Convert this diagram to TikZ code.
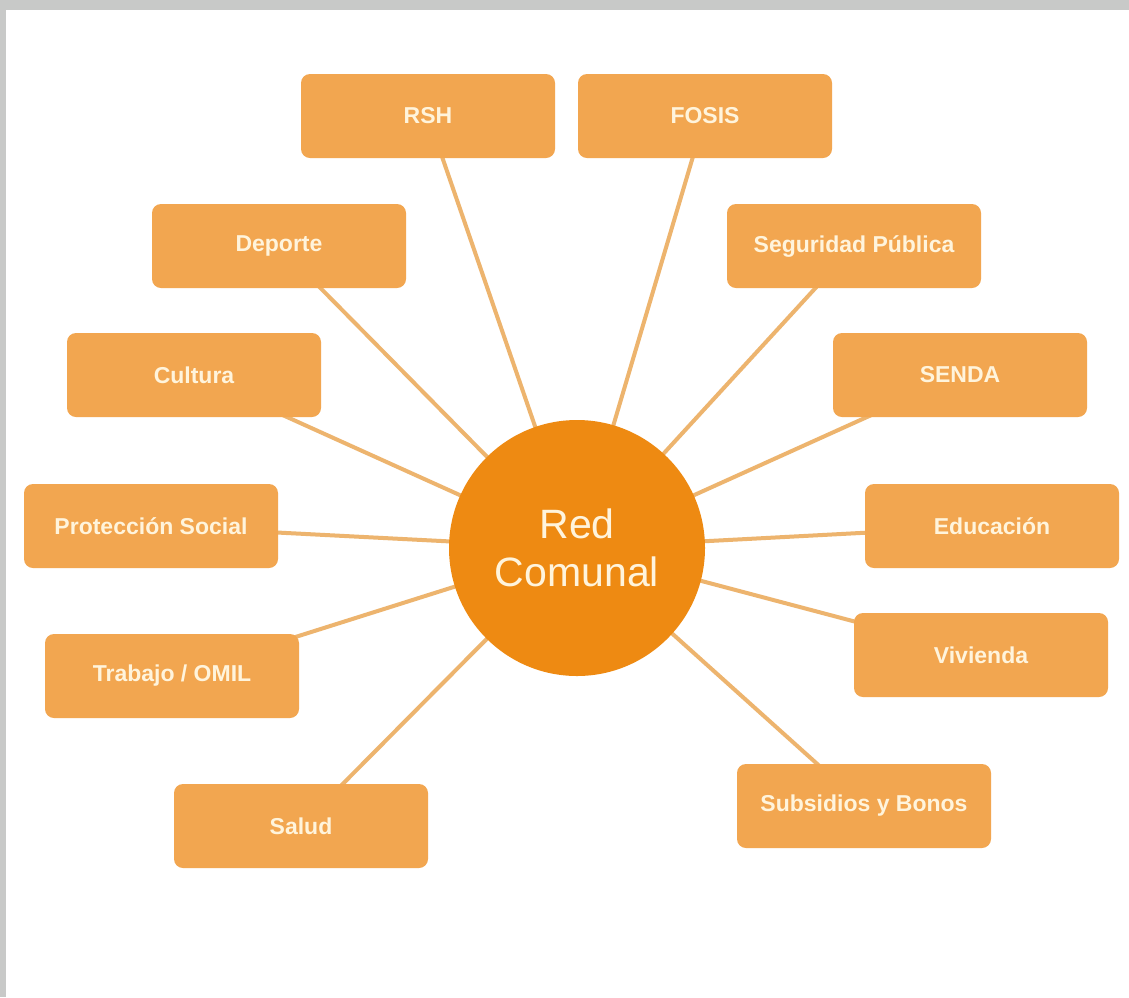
\documentclass[tikz,border=0pt]{standalone}
\usepackage{fontspec}
\setmainfont{Liberation Sans}
\usetikzlibrary{backgrounds}
\definecolor{boxfill}{HTML}{F2A650}
\definecolor{hubfill}{HTML}{EE8A12}
\definecolor{linkcol}{HTML}{EDB46E}
\definecolor{txtcol}{HTML}{FFF4DC}
\definecolor{framegray}{HTML}{C8C9C8}
\tikzset{
  topic/.style={draw=none, fill=boxfill, rounded corners=9pt, minimum width=254pt, minimum height=84pt,
    text=txtcol, font=\fontsize{23}{27}\selectfont\bfseries, inner sep=0pt},
  hub/.style={circle, fill=hubfill, minimum size=256pt, inner sep=0pt, text=txtcol,
    font=\fontsize{41}{52}\selectfont, align=center},
  link/.style={draw=linkcol, line width=4pt}
}
\begin{document}
\begin{tikzpicture}[x=1pt,y=-1pt]
\useasboundingbox (0,0) rectangle (1129,997);
\node[hub] (hub) at (577,548) {Red\\[-4pt]Comunal};
\node[topic] (rsh) at (428,116) {RSH};
\node[topic] (fosis) at (705,116) {FOSIS};
\node[topic] (deporte) at (279,246) {Deporte};
\node[topic] (seguridad) at (854,246) {Seguridad Pública};
\node[topic] (cultura) at (194,375) {Cultura};
\node[topic] (senda) at (960,375) {SENDA};
\node[topic] (proteccion) at (151,526) {Protección Social};
\node[topic] (educacion) at (992,526) {Educación};
\node[topic] (trabajo) at (172,676) {Trabajo / OMIL};
\node[topic] (vivienda) at (981,655) {Vivienda};
\node[topic] (salud) at (301,826) {Salud};
\node[topic] (subsidios) at (864,806) {Subsidios y Bonos};
\begin{scope}[on background layer]
\fill[white] (0,0) rectangle (1129,997);
\fill[framegray] (0,0) rectangle (1129,10);
\fill[framegray] (0,0) rectangle (6,997);
\foreach \t in {rsh,fosis,deporte,seguridad,cultura,senda,proteccion,educacion,trabajo,vivienda,salud,subsidios}
  \draw[link] (hub.center) -- (\t.center);
\end{scope}
\end{tikzpicture}
\end{document}
